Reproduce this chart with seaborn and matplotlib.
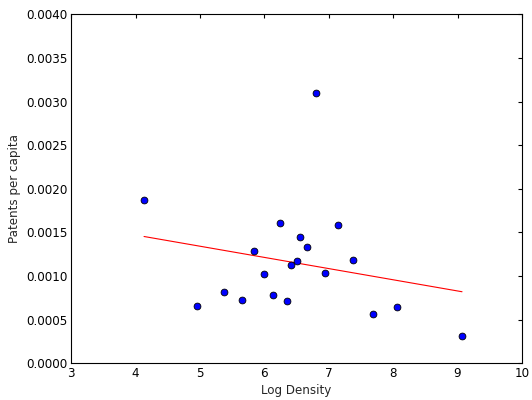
import numpy as np
import pandas as pd
import matplotlib
matplotlib.use("Agg")
import matplotlib.pyplot as plt
import seaborn as sns
from matplotlib.ticker import FormatStrFormatter, MultipleLocator

log_density = [4.13, 4.96, 5.38, 5.65, 5.84, 6.00, 6.14, 6.25, 6.35, 6.42,
               6.50, 6.56, 6.66, 6.80, 6.94, 7.14, 7.37, 7.68, 8.06, 9.07]
patents_per_capita = [0.001876, 0.000661, 0.000814, 0.000729, 0.001288,
                      0.001024, 0.000783, 0.001606, 0.000718, 0.001131,
                      0.001170, 0.001445, 0.001334, 0.003096, 0.001032,
                      0.001583, 0.001181, 0.000565, 0.000646, 0.000313]

df = pd.DataFrame({"Log Density": log_density,
                   "Patents per capita": patents_per_capita})

sns.set_style("white")
plt.rcParams["font.family"] = ["DejaVu Sans"]

fig = plt.figure(figsize=(5.32, 4.0), dpi=100)
ax = fig.add_axes([0.134, 0.092, 0.847, 0.872])

sns.scatterplot(data=df, x="Log Density", y="Patents per capita", ax=ax,
                color="blue", edgecolor="black", linewidth=0.6, s=24, zorder=3)
sns.regplot(data=df, x="Log Density", y="Patents per capita", ax=ax,
            scatter=False, ci=None, truncate=True,
            line_kws={"color": "red", "linewidth": 0.8})

ax.set_xlim(3, 10)
ax.set_ylim(0, 0.004)
ax.xaxis.set_major_locator(MultipleLocator(1))
ax.yaxis.set_major_locator(MultipleLocator(0.0005))
ax.yaxis.set_major_formatter(FormatStrFormatter("%.4f"))
ax.set_xlabel("Log Density", fontsize=8.6, labelpad=3)
ax.set_ylabel("Patents per capita", fontsize=8.6, labelpad=4)
ax.tick_params(direction="in", length=3, width=0.8, top=True, right=True,
               labelsize=8.6, pad=2.5, colors="black")
for sp in ax.spines.values():
    sp.set_visible(True)
    sp.set_color("black")
    sp.set_linewidth(0.8)

fig.savefig("out.png", dpi=100)
